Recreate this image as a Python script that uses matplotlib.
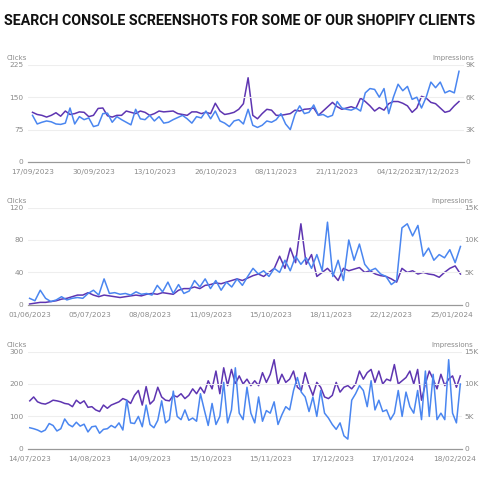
import numpy as np
import pandas as pd
import matplotlib
matplotlib.use("Agg")
import matplotlib.pyplot as plt

BLUE = "#4a86f0"
PURPLE = "#5e35b1"
GREY = "#8a8a8a"

# ── Panel 1 : daily, 17/09/2023 → 17/12/2023 ───────────────────────────────
p1_clicks = [108, 88, 92, 95, 93, 88, 87, 90, 125, 88,
             105, 98, 102, 82, 85, 112, 113, 92, 105, 98,
             92, 86, 122, 100, 98, 108, 95, 105, 90, 92,
             98, 103, 108, 100, 90, 105, 102, 118, 100, 118,
             95, 90, 82, 95, 98, 88, 122, 85, 80, 85,
             95, 92, 98, 112, 88, 75, 110, 130, 112, 115,
             132, 108, 110, 104, 108, 140, 125, 122, 120, 125,
             118, 160, 170, 168, 150, 170, 112, 150, 180, 165,
             175, 145, 150, 125, 150, 185, 172, 185, 160, 165,
             160, 210]
p1_impr = [4600, 4400, 4320, 4160, 4320, 4560, 4240, 4720, 4400, 4480,
           4640, 4600, 4200, 4320, 4960, 5000, 4280, 4160, 4320, 4320,
           4720, 4600, 4480, 4720, 4600, 4320, 4480, 4720, 4640, 4680,
           4720, 4480, 4400, 4320, 4640, 4640, 4480, 4600, 4480, 5440,
           4720, 4400, 4480, 4600, 4880, 5400, 7800, 4320, 4000, 4480,
           4880, 4800, 4320, 4320, 4400, 4480, 4800, 4720, 4880, 4920,
           5000, 4320, 4720, 5120, 5520, 5120, 4880, 5000, 5120, 4960,
           5920, 5600, 5200, 4720, 5040, 4800, 5400, 5600, 5600, 5440,
           5200, 4600, 5000, 6080, 5920, 5520, 5400, 5000, 4600, 4720,
           5200, 5600]
p1_start = "2023-09-17"
p1_freq = "D"
p1_ticks = ["17/09/2023", "30/09/2023", "13/10/2023", "26/10/2023",
            "08/11/2023", "21/11/2023", "04/12/2023", "17/12/2023"]

# ── Panel 2 : every 3 days, 01/06/2023 → 30/01/2024 ────────────────────────
p2_clicks = [8, 5, 18, 8, 4, 6, 10, 6, 8, 9,
             8, 14, 18, 12, 32, 14, 15, 13, 14, 12,
             16, 13, 14, 12, 24, 16, 28, 14, 25, 14,
             17, 30, 22, 32, 20, 30, 18, 28, 22, 32,
             24, 35, 45, 38, 42, 35, 45, 40, 55, 42,
             60, 50, 58, 45, 62, 42, 102, 35, 55, 30,
             80, 55, 75, 50, 42, 45, 38, 35, 25, 30,
             95, 100, 85, 98, 60, 70, 55, 62, 58, 68,
             52, 72]
p2_impr = [125, 250, 375, 375, 500, 625, 875, 1000, 1250, 1500,
           1500, 1875, 1500, 1250, 1500, 1375, 1250, 1125, 1250, 1375,
           1500, 1375, 1625, 1750, 1625, 1875, 1750, 1625, 2250, 2500,
           2500, 2750, 2500, 3000, 3125, 3375, 3250, 3500, 3750, 4000,
           3750, 4125, 4500, 4750, 4375, 5000, 5625, 7500, 5625, 8750,
           6500, 12500, 6250, 7750, 4375, 5000, 5625, 4750, 3750, 5625,
           5250, 5500, 5750, 5000, 5250, 4750, 4500, 4375, 4000, 3500,
           5625, 5000, 5250, 4750, 5000, 4750, 4625, 4250, 5000, 5625,
           6000, 4750]
p2_start = "2023-06-01"
p2_freq = "3D"
p2_ticks = ["01/06/2023", "05/07/2023", "08/08/2023", "11/09/2023",
            "15/10/2023", "18/11/2023", "22/12/2023", "25/01/2024"]

# ── Panel 3 : every 2 days, 14/07/2023 → 21/02/2024 ────────────────────────
p3_clicks = [65, 62, 58, 52, 58, 78, 72, 55, 62, 92, 75, 68, 82, 70, 76,
             52, 68, 70, 48, 60, 62, 72, 65, 80, 58, 150, 80, 78, 100, 68,
             135, 75, 65, 88, 148, 80, 90, 178, 100, 90, 120, 88, 95, 85, 170,
             120, 72, 140, 75, 100, 205, 80, 120, 250, 110, 90, 190, 110, 80, 160,
             85, 118, 110, 145, 75, 105, 130, 120, 180, 220, 175, 160, 115, 160, 100,
             180, 110, 95, 75, 60, 80, 40, 30, 150, 170, 195, 180, 130, 210, 120,
             150, 115, 120, 90, 110, 180, 100, 175, 130, 110, 180, 90, 240, 100, 230,
             90, 110, 90, 275, 110, 80, 200]
p3_impr = [7400, 8000, 7250, 7000, 6900, 7150, 7500, 7400, 7250, 7000, 6900, 6500, 7500, 7000, 7400,
           6400, 6500, 6000, 5750, 6750, 6250, 6750, 7000, 7250, 7750, 7500, 7000, 8250, 9000, 6750,
           9600, 6900, 7500, 9500, 8000, 7500, 7400, 8250, 8000, 8500, 7750, 8250, 9250, 8500, 9500,
           8600, 10500, 9250, 12000, 8500, 12500, 9750, 12250, 10000, 11250, 10000, 10750, 9750, 10500, 9750,
           11750, 10250, 11500, 13750, 10000, 11500, 10250, 10750, 12000, 9500, 9000, 11750, 9750, 8250, 10250,
           9500, 8000, 7750, 8250, 10250, 8750, 9500, 9750, 9250, 10000, 12000, 10750, 11750, 12250, 10250,
           12000, 10000, 10750, 10500, 13000, 10000, 10500, 11000, 12000, 10000, 12250, 7500, 10000, 12000, 10750,
           9250, 11500, 9750, 10750, 11250, 9500, 11250]
p3_start = "2023-07-14"
p3_freq = "2D"
p3_ticks = ["14/07/2023", "14/08/2023", "14/09/2023", "15/10/2023",
            "15/11/2023", "17/12/2023", "17/01/2024", "18/02/2024"]

panels = [
    (p1_clicks, p1_impr, p1_start, p1_freq, p1_ticks,
     [0, 75, 150, 225], [0, 3000, 6000, 9000], ["0", "3K", "6K", "9K"]),
    (p2_clicks, p2_impr, p2_start, p2_freq, p2_ticks,
     [0, 40, 80, 120], [0, 5000, 10000, 15000], ["0", "5K", "10K", "15K"]),
    (p3_clicks, p3_impr, p3_start, p3_freq, p3_ticks,
     [0, 100, 200, 300], [0, 5000, 10000, 15000], ["0", "5K", "10K", "15K"]),
]

fig = plt.figure(figsize=(4.8, 4.8), dpi=100, facecolor="white")
title = fig.text(0.5, 0.957, "SEARCH CONSOLE SCREENSHOTS FOR SOME OF OUR SHOPIFY CLIENTS",
                 ha="center", va="center", fontsize=12, fontweight="bold",
                 family=["Roboto", "DejaVu Sans"], color="#111111")
# shrink title to fit the 470 px the reference spans
r = fig.canvas.get_renderer()
w = title.get_window_extent(r).width
title.set_fontsize(12 * 468 / w)

rects = [[0.058, 0.6625, 0.908, 0.2025],
         [0.058, 0.365, 0.905, 0.2025],
         [0.058, 0.065, 0.905, 0.2025]]

for i, (rect, (clicks, impr, start, freq, ticks, yl, yr, yr_lab)) in enumerate(zip(rects, panels)):
    dates = pd.date_range(start, periods=len(clicks), freq=freq)
    ax = fig.add_axes(rect)
    ax2 = ax.twinx()
    ax2.plot(dates, impr, color=PURPLE, lw=1.1, zorder=2)
    ax.plot(dates, clicks, color=BLUE, lw=1.1, zorder=3)
    ax.set_zorder(ax2.get_zorder() + 1)
    ax.patch.set_visible(False)

    ax.set_ylim(yl[0], yl[-1])
    ax2.set_ylim(yr[0], yr[-1])
    ax.set_yticks(yl)
    ax2.set_yticks(yr)
    ax2.set_yticklabels(yr_lab)
    tick_dates = pd.to_datetime(ticks, format="%d/%m/%Y")
    ax.set_xticks(tick_dates)
    labels = ax.set_xticklabels(ticks)
    if i == 0:
        labels[-1].set_ha("right")
    ax.set_xlim(dates[0] - pd.Timedelta(days=1), dates[-1] + pd.Timedelta(days=1))

    ax.grid(axis="y", color="#eeeeee", lw=0.8)
    for a in (ax, ax2):
        for s in ("top", "left", "right"):
            a.spines[s].set_visible(False)
        a.spines["bottom"].set_color("#999999")
        a.tick_params(length=0, labelsize=5.3, colors=GREY, pad=3)
    ax2.tick_params(pad=1.5)
    ax.tick_params(axis="x", pad=5)
    ax.text(-0.003, 1.04, "Clicks", transform=ax.transAxes, ha="right",
            va="bottom", fontsize=5, color=GREY)
    ax.text(1.025, 1.04, "Impressions", transform=ax.transAxes, ha="right",
            va="bottom", fontsize=5, color=GREY)

fig.savefig("out.png", dpi=100, facecolor="white")
